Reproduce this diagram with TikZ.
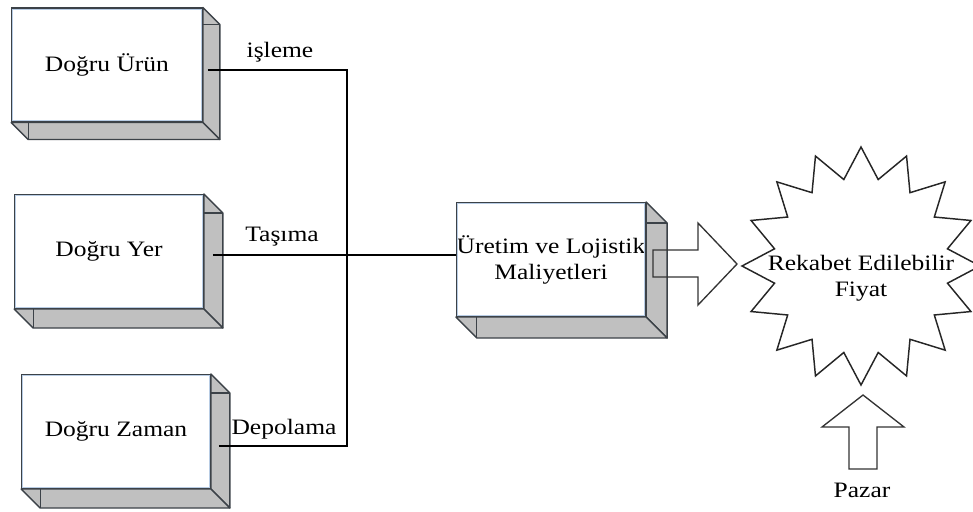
\documentclass[tikz,border=0pt]{standalone}
\usepackage{fontspec}
\setmainfont{Liberation Serif}[FakeStretch=1.16]
\usetikzlibrary{shapes.geometric}

\definecolor{edge}{HTML}{3C4248}
\definecolor{sidegray}{HTML}{C0C0C0}
\definecolor{innerblue}{HTML}{B8CCE4}

\begin{document}
\begin{tikzpicture}[x=0.75pt,y=-0.75pt,
  font=\fontsize{16.5pt}{19.5pt}\selectfont,
  face/.style={rectangle,draw=edge,line width=1.3pt,fill=white,
    minimum width=141pt,minimum height=85pt,inner sep=0pt,align=center},
  side/.style={draw=edge,line width=1pt,fill=sidegray,line join=round},
  wire/.style={draw=black,line width=1.1pt},
  blockarrow/.style={draw=black!80,line width=1pt,line join=miter},
  lbl/.style={inner sep=0pt}]

\useasboundingbox (0,0) rectangle (973,511);

% front faces of the 3-D boxes
\node[face,minimum width=142.5pt] (urun) at (107,65) {Doğru Ürün};
\node[face] (yer) at (109,251.5) {Doğru Yer};
\node[face] (zaman) at (116,431.5) {Doğru Zaman};
\node[face] (maliyet) at (551,259.5) {Üretim ve Lojistik\\Maliyetleri};

% extruded side and bottom panels, with a light inner rim on each face
\foreach \n/\d in {urun/17,yer/19,zaman/19,maliyet/21} {
  \path[side] (\n.north east) -- ++(\d,\d) -- ([shift={(\d,\d)}]\n.south east)
    -- (\n.south east) -- cycle;
  \path[side] (\n.south west) -- ++(\d,\d) -- ([shift={(\d,\d)}]\n.south east)
    -- (\n.south east) -- cycle;
  \draw[edge,line width=0.8pt] ([shift={(0,\d)}]\n.north east) -- ([shift={(\d,\d)}]\n.north east);
  \draw[edge,line width=0.8pt] ([shift={(\d,0)}]\n.south west) -- ([shift={(\d,\d)}]\n.south west);
  \draw[innerblue,line width=0.7pt] ([shift={(1.8,1.8)}]\n.north west)
    rectangle ([shift={(-1.8,-1.8)}]\n.south east);
}

% connectors to the cost box
\coordinate (bus) at (347,255);
\draw[wire] ([shift={(5,5)}]urun.east) -| (bus);
\draw[wire] ([shift={(8,14.5)}]zaman.east) -| (bus);
\draw[wire] ([shift={(9,3.5)}]yer.east) -- (maliyet.west |- bus);

% connector labels
\node[lbl] (isleme) at (280,52) {işleme};
\node[lbl] (tasima) at (282,237) {Taşıma};
\node[lbl] (depolama) at (284,429) {Depolama};

% price star
\node[star,star points=16,star point ratio=1.35,minimum size=178.5pt,
  draw=black!85,line width=1.1pt,inner sep=0pt] (fiyat) at (861,266) {};
\node[lbl,align=center] (fiyatlbl) at (861,278) {Rekabet Edilebilir\\Fiyat};

% block arrows
\draw[blockarrow] (653,250) -- (698,250) -- (698,223) -- (737,264)
  -- (698,305) -- (698,277) -- (653,277) -- cycle;
\draw[blockarrow] (849,469) -- (849,427) -- (822,427) -- (863,395)
  -- (904,427) -- (877,427) -- (877,469) -- cycle;
\node[lbl] (pazar) at (862,490) {Pazar};

\end{tikzpicture}
\end{document}
